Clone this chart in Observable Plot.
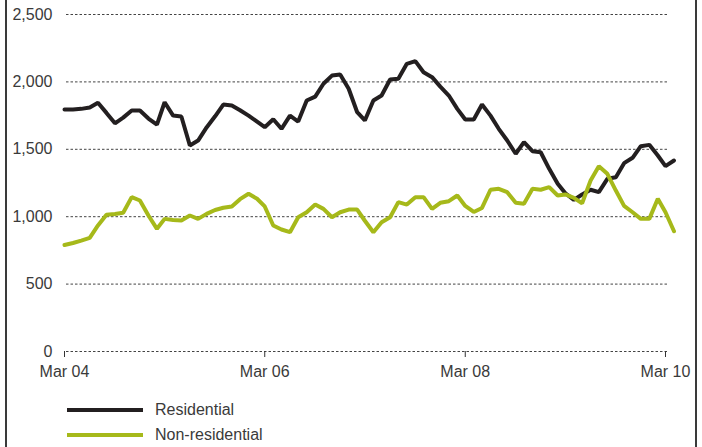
<!DOCTYPE html>
<html><head><meta charset="utf-8">
<script src="https://cdn.jsdelivr.net/npm/d3@7"></script>
<script src="https://cdn.jsdelivr.net/npm/@observablehq/plot@0.6"></script>
<style>
body{margin:0;background:#fff;font-family:"Liberation Sans",Arial,sans-serif;}
#wrap{position:relative;width:702px;height:447px;overflow:hidden;background:#fff;}
.bl{position:absolute;top:0;height:447px;width:1.6px;background:#3a3a3a;}
.lg{position:absolute;left:67px;width:76px;height:4px;}
.lt{position:absolute;left:155px;font-size:16px;color:#3a3a3a;line-height:18px;}
#chart{position:absolute;left:0;top:0;}
</style></head>
<body>
<div id="wrap">
  <div id="chart"></div>
  <div class="bl" style="left:5px"></div>
  <div class="bl" style="left:695px"></div>
  <div class="lg" style="top:408px;background:#231f20"></div>
  <div class="lt" style="top:401px">Residential</div>
  <div class="lg" style="top:433px;background:#a6b91a"></div>
  <div class="lt" style="top:426px">Non-residential</div>
</div>
<script>
// Monthly series, Mar 2004 .. Apr 2010
const startMonth = "2004-03-01";
const residential = [1795,1795,1800,1810,1845,1770,1693,1735,1788,1788,1728,1683,1849,1750,1743,1528,1565,1662,1745,1832,1825,1790,1750,1705,1664,1723,1652,1750,1706,1862,1891,1986,2047,2055,1949,1775,1714,1862,1899,2018,2023,2134,2154,2072,2035,1965,1899,1800,1721,1721,1832,1750,1652,1565,1467,1553,1486,1478,1355,1244,1174,1125,1165,1200,1182,1281,1293,1397,1437,1523,1533,1454,1375,1417];
const nonResidential = [790,805,823,843,935,1014,1020,1029,1145,1120,1009,910,984,975,972,1009,984,1021,1050,1066,1076,1130,1170,1133,1076,935,905,885,996,1033,1090,1058,996,1033,1053,1053,970,885,959,996,1108,1090,1145,1145,1058,1103,1115,1157,1080,1035,1065,1200,1207,1182,1103,1096,1207,1200,1219,1157,1165,1140,1100,1268,1375,1318,1194,1080,1033,984,984,1133,1033,892];
const yTicks = [0,500,1000,1500,2000,2500];
const xTickLabels = ["2004-03-01","2006-03-01","2008-03-01","2010-03-01"];

const start = new Date(startMonth);
const months = d3.utcMonth.range(start, d3.utcMonth.offset(start, residential.length));
const resData = residential.map((v,i)=>({date:months[i], value:v}));
const nonData = nonResidential.slice(0, months.length).map((v,i)=>({date:months[i], value:v}));
const xTicks = xTickLabels.map(s=>new Date(s));

const chart = Plot.plot({
  width: 702, height: 385,
  marginTop: 14, marginBottom: 34, marginLeft: 66, marginRight: 35,
  style: {fontFamily: '"Liberation Sans", Arial, sans-serif', fontSize: "16px", color: "#3a3a3a", background: "transparent"},
  x: {type: "utc", domain: [xTicks[0], xTicks[3]], range: [64, 665]},
  y: {domain: [0, 2500]},
  marks: [
    Plot.ruleY(yTicks, {stroke: "#444", strokeWidth: 1, strokeDasharray: "2.5,2"}),
    Plot.axisY(yTicks, {tickSize: 0, tickPadding: 14, tickFormat: d3.format(","), label: null, fontSize: 16, fill: "#3a3a3a"}),
    Plot.axisX(xTicks, {tickSize: 6, tickPadding: 8, tickFormat: d3.utcFormat("%b %y"), label: null, fontSize: 16, stroke: "#333", fill: "#3a3a3a"}),
    Plot.line(resData, {x: "date", y: "value", stroke: "#231f20", strokeWidth: 4, strokeLinejoin: "miter"}),
    Plot.line(nonData, {x: "date", y: "value", stroke: "#a6b91a", strokeWidth: 4, strokeLinejoin: "miter"})
  ]
});
document.getElementById("chart").appendChild(chart);
</script>
</body></html>
